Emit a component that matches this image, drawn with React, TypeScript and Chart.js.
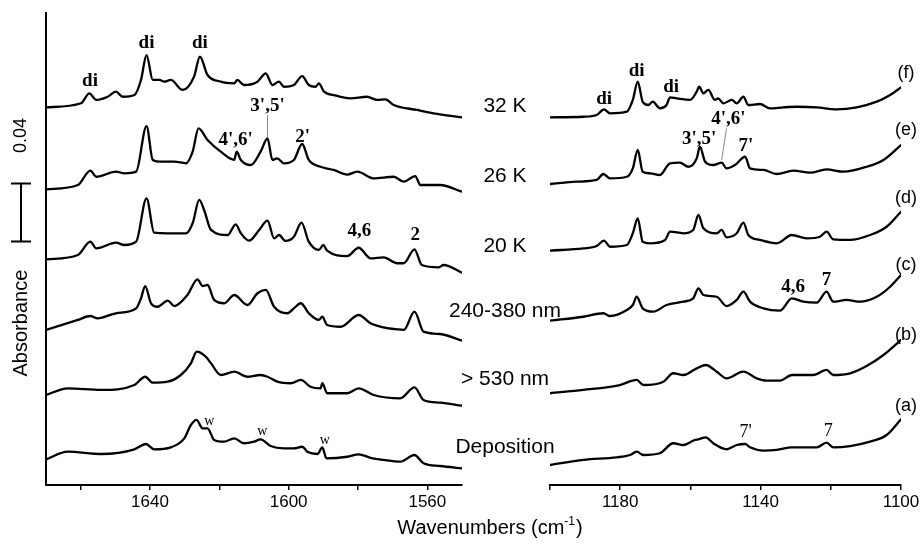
import React, { useEffect, useRef } from 'react';
import { Chart, registerables } from 'chart.js';

Chart.register(...registerables);

// ---------- data (y values: absorbance x 10^-3, traces offset-stacked) ----------
const Y_MAX = 325.7;
const SCALE_BAR_BASE = 168;
const SCALE_BAR = 40; // = 0.04 absorbance

const LEFT_TICKS = [1560, 1580, 1600, 1620, 1640, 1660];
const LEFT_MAJOR = [1560, 1600, 1640];
const RIGHT_TICKS = [1100, 1120, 1140, 1160, 1180, 1200];
const RIGHT_MAJOR = [1100, 1140, 1180];

// Left panel (1670-1550 cm-1)
const L_F_WN = [1670, 1659.9, 1657.5, 1655.5, 1652.2, 1649.8, 1647.9, 1644.5, 1642.6, 1641.0, 1639.2, 1637.3, 1635.9, 1634.0, 1630.6, 1627.3, 1625.6, 1623.4, 1619.6, 1615.7, 1614.8, 1612.9, 1609.0, 1606.6, 1604.7, 1602.8, 1601.4, 1598.5, 1596.1, 1594.2, 1592.2, 1591.3, 1589.8, 1587.0, 1582.2, 1577.4, 1574.5, 1572.1, 1569.7, 1563.0, 1558.2, 1550];
const L_F = [260.6, 263.4, 270.3, 265.7, 267.9, 271.4, 267.9, 269.1, 279.5, 296.7, 279.5, 279.5, 278.3, 279.5, 272.6, 281.7, 295.5, 282.9, 278.3, 277.2, 279.5, 276.0, 278.3, 284.1, 276.0, 278.3, 274.8, 276.0, 282.2, 276.0, 274.8, 277.2, 271.4, 269.1, 266.8, 267.9, 265.7, 266.1, 262.2, 258.8, 256.5, 253.7];

const L_E_WN = [1670, 1660.8, 1657.2, 1655.5, 1649.8, 1647.4, 1644.0, 1641.0, 1639.2, 1636.8, 1633.0, 1629.6, 1627.7, 1626.0, 1623.4, 1619.6, 1615.7, 1615.0, 1613.8, 1610.9, 1608.1, 1606.1, 1604.7, 1603.3, 1601.4, 1598.5, 1596.1, 1594.2, 1590.8, 1587.0, 1583.1, 1580.2, 1575.5, 1569.7, 1566.8, 1563.5, 1562.0, 1556.3, 1550];
const L_E = [204.0, 207.0, 216.9, 212.7, 216.2, 215.1, 216.2, 247.7, 224.3, 223.1, 223.1, 222.0, 230.0, 246.1, 238.1, 230.0, 224.3, 230.0, 224.3, 220.8, 230.0, 239.2, 224.3, 225.4, 222.0, 224.3, 235.3, 224.3, 219.6, 217.4, 214.2, 216.2, 211.6, 212.7, 209.3, 213.2, 207.0, 207.0, 202.4];

const L_D_WN = [1670, 1660.8, 1657.2, 1655.5, 1649.8, 1647.4, 1644.0, 1641.0, 1638.8, 1634.9, 1629.6, 1627.7, 1625.8, 1624.4, 1622.4, 1617.6, 1615.3, 1613.8, 1611.4, 1608.5, 1606.1, 1604.2, 1602.8, 1600.9, 1598.5, 1596.3, 1594.2, 1591.3, 1590.0, 1588.9, 1583.1, 1579.8, 1576.4, 1572.6, 1568.7, 1566.8, 1563.7, 1561.6, 1556.7, 1555.3, 1550];
const L_D = [155.7, 158.7, 167.9, 163.3, 167.2, 165.6, 167.9, 197.8, 174.1, 173.7, 173.7, 180.6, 196.7, 189.8, 176.0, 172.5, 179.9, 173.7, 168.6, 176.0, 182.4, 170.2, 172.5, 168.4, 171.3, 181.0, 167.9, 162.2, 165.6, 161.7, 158.0, 163.7, 156.4, 157.1, 153.0, 153.0, 162.6, 151.8, 150.2, 151.8, 146.5];

const L_C_WN = [1670, 1660.8, 1657.2, 1655.1, 1649.8, 1644.0, 1642.6, 1641.4, 1639.7, 1637.8, 1634.9, 1633.0, 1629.2, 1626.3, 1624.8, 1623.4, 1621.5, 1618.6, 1615.7, 1611.9, 1609.0, 1606.6, 1604.2, 1600.4, 1598.5, 1596.5, 1594.2, 1591.3, 1590.3, 1588.9, 1585.0, 1579.8, 1576.4, 1572.6, 1568.7, 1566.8, 1563.7, 1561.1, 1556.3, 1550];
const L_C = [107.0, 113.9, 116.6, 115.0, 118.5, 121.9, 128.8, 137.3, 125.4, 123.0, 127.2, 123.5, 131.1, 141.9, 137.3, 138.0, 127.7, 125.4, 131.1, 124.2, 132.3, 134.6, 123.0, 118.5, 121.9, 125.4, 118.5, 113.9, 116.1, 110.4, 109.2, 117.3, 111.6, 108.8, 107.4, 107.0, 119.6, 105.8, 104.2, 99.6];

const L_B_WN = [1670, 1663.7, 1654.1, 1644.5, 1641.4, 1639.2, 1634.9, 1631.1, 1628.2, 1626.5, 1623.9, 1622.4, 1619.6, 1615.7, 1611.9, 1608.1, 1606.1, 1603.3, 1599.4, 1596.5, 1593.7, 1590.8, 1590.3, 1588.9, 1583.1, 1579.8, 1575.5, 1567.8, 1563.7, 1561.1, 1556.3, 1550];
const L_B = [62.1, 66.7, 65.6, 69.0, 74.7, 70.6, 71.3, 75.9, 84.0, 92.0, 88.5, 84.0, 75.9, 78.2, 74.7, 75.9, 74.7, 71.3, 70.2, 72.5, 67.8, 66.7, 70.2, 63.3, 63.3, 66.7, 62.1, 59.8, 67.4, 58.7, 56.8, 54.7];

const L_A_WN = [1670, 1663.7, 1654.1, 1644.5, 1641.2, 1638.8, 1634.0, 1630.1, 1628.2, 1626.6, 1624.8, 1623.4, 1621.5, 1618.6, 1615.7, 1612.9, 1610.0, 1608.1, 1605.2, 1601.4, 1598.5, 1596.1, 1594.6, 1591.7, 1590.3, 1589.1, 1583.1, 1579.8, 1576.4, 1572.6, 1567.8, 1563.7, 1561.1, 1556.3, 1550];
const L_A = [17.7, 23.0, 21.4, 24.6, 28.3, 24.6, 26.0, 32.2, 41.4, 44.9, 39.1, 39.1, 31.1, 29.9, 32.2, 28.8, 29.9, 31.5, 26.9, 25.3, 25.3, 26.4, 23.0, 21.4, 26.0, 18.4, 19.5, 21.2, 18.8, 17.3, 16.1, 20.7, 15.0, 13.1, 11.5];

// Right panel (1200-1100 cm-1)
const R_F_WN = [1200, 1190.5, 1186.7, 1184.6, 1182.9, 1178.1, 1176.4, 1175.0, 1173.6, 1172.0, 1170.7, 1168.7, 1166.8, 1165.8, 1163.9, 1160.1, 1158.2, 1157.5, 1156.3, 1154.9, 1153.0, 1152.1, 1150.6, 1148.2, 1146.8, 1144.9, 1143.5, 1140.2, 1137.3, 1133.5, 1129.7, 1124.0, 1118.3, 1112.6, 1106.9, 1103.1, 1100];
const R_F = [253.7, 254.1, 255.3, 259.2, 256.5, 257.6, 265.7, 278.3, 264.5, 262.2, 264.5, 259.9, 262.2, 267.5, 266.8, 265.7, 271.4, 274.8, 270.3, 272.6, 265.7, 266.8, 263.4, 265.7, 263.4, 267.9, 262.2, 262.9, 259.9, 260.6, 261.0, 260.6, 259.2, 260.6, 264.5, 269.1, 274.4];

const R_E_WN = [1200, 1192.4, 1186.7, 1184.8, 1182.9, 1178.1, 1176.4, 1175.0, 1173.6, 1171.5, 1168.7, 1165.8, 1163.0, 1160.6, 1158.2, 1157.3, 1155.8, 1153.5, 1151.1, 1149.7, 1147.3, 1144.4, 1143.0, 1139.2, 1135.4, 1130.7, 1125.9, 1121.2, 1116.4, 1109.8, 1105.0, 1100];
const R_E = [207.7, 209.3, 210.5, 214.6, 211.6, 212.7, 218.5, 231.2, 216.2, 215.1, 213.9, 222.0, 222.4, 219.6, 225.4, 233.4, 223.1, 220.8, 222.4, 218.5, 220.8, 226.5, 218.5, 217.4, 214.6, 216.9, 215.5, 217.8, 216.2, 219.6, 224.3, 234.6];

const R_D_WN = [1200, 1190.5, 1186.7, 1184.6, 1182.9, 1178.1, 1176.4, 1175.0, 1173.6, 1171.5, 1167.2, 1165.8, 1162.0, 1159.2, 1157.7, 1156.3, 1152.5, 1151.1, 1149.7, 1146.8, 1144.9, 1143.5, 1140.2, 1135.4, 1131.1, 1126.9, 1123.1, 1121.2, 1119.3, 1114.5, 1108.8, 1104.1, 1100];
const R_D = [161.7, 163.3, 164.9, 168.6, 164.4, 165.6, 173.7, 184.0, 167.9, 166.8, 169.1, 174.8, 173.7, 176.0, 186.3, 177.1, 173.7, 176.0, 170.9, 173.7, 181.0, 172.5, 169.1, 166.8, 172.5, 170.2, 171.3, 174.8, 169.5, 169.1, 172.5, 178.2, 188.6];

const R_C_WN = [1200, 1190.5, 1184.8, 1182.9, 1178.1, 1176.4, 1175.3, 1173.6, 1170.6, 1166.8, 1162.0, 1159.2, 1157.7, 1156.3, 1152.5, 1149.7, 1146.8, 1144.9, 1143.0, 1139.2, 1134.5, 1131.1, 1127.8, 1124.0, 1121.2, 1119.3, 1115.5, 1111.7, 1106.9, 1103.1, 1100];
const R_C = [113.4, 116.1, 118.5, 116.6, 120.8, 124.2, 129.9, 121.9, 119.6, 124.2, 126.5, 128.8, 135.7, 131.1, 129.9, 123.5, 127.7, 133.4, 126.5, 121.9, 120.3, 128.8, 126.5, 125.8, 133.4, 126.5, 127.7, 126.5, 129.9, 136.8, 144.9];

const R_B_WN = [1200, 1190.5, 1180.1, 1175.3, 1173.4, 1167.7, 1164.9, 1162.0, 1158.2, 1155.6, 1152.5, 1149.7, 1144.9, 1141.1, 1138.3, 1134.5, 1131.1, 1125.0, 1121.2, 1119.3, 1114.5, 1109.8, 1105.0, 1100];
const R_B = [63.3, 65.6, 69.0, 72.5, 69.0, 71.3, 77.1, 75.9, 80.5, 82.8, 78.2, 73.6, 78.2, 73.6, 72.0, 72.0, 75.9, 75.9, 79.4, 75.9, 77.1, 82.1, 89.7, 100.1];

const R_A_WN = [1200, 1190.5, 1181.0, 1177.2, 1175.3, 1173.4, 1168.7, 1164.9, 1162.0, 1158.7, 1157.7, 1155.6, 1153.5, 1149.7, 1146.8, 1144.4, 1143.0, 1139.2, 1135.4, 1131.1, 1124.0, 1121.2, 1119.3, 1114.5, 1108.8, 1104.1, 1100];
const R_A = [13.8, 17.3, 19.1, 20.7, 23.0, 20.7, 21.9, 28.8, 27.6, 31.1, 31.5, 32.9, 28.8, 24.6, 27.6, 28.3, 26.0, 23.7, 24.2, 26.0, 26.0, 29.2, 26.0, 26.9, 29.9, 34.5, 45.3];

// Annotations: [text, wavenumber, value]
const LEFT_BOLD_NOTES: [string, number, number][] = [
  ['di', 1657.3, 278.4], ['di', 1641.0, 304.6], ['di', 1625.6, 304.6],
  ["3',5'", 1606.1, 261.2], ["4',6'", 1615.3, 238.1], ["2'", 1596.0, 239.8],
  ['4,6', 1579.6, 174.9], ['2', 1563.5, 172.5],
];
const LEFT_W_NOTES: [string, number, number][] = [
  ['w', 1622.9, 41.4], ['w', 1607.6, 34.5], ['w', 1589.6, 28.3],
];
const LEFT_LEADER = [1606.1, 255.3, 1606.1, 240.1];

const RIGHT_BOLD_NOTES: [string, number, number][] = [
  ['di', 1184.6, 266.3], ['di', 1175.3, 285.7], ['di', 1165.5, 274.3],
  ["3',5'", 1157.5, 238.7], ["4',6'", 1149.2, 252.5], ["7'", 1144.2, 233.6],
  ['4,6', 1130.7, 136.6], ['7', 1121.2, 141.5],
];
const RIGHT_PLAIN_NOTES: [string, number, number][] = [
  ["7'", 1144.3, 36.6], ['7', 1120.7, 37.3],
];
const RIGHT_LEADER = [1149.7, 246.1, 1151.1, 224.3];

const CONDITIONS = ['32 K', '26 K', '20 K', '240-380 nm', '> 530 nm', 'Deposition'];
const CONDITION_BASELINE = [257.6, 209.3, 161.0, 116.1, 69.0, 21.9];
const TAGS = ['(f)', '(e)', '(d)', '(c)', '(b)', '(a)'];
const TAG_Y = [284.2, 245.0, 197.8, 151.8, 103.5, 54.7];

const LEFT_SERIES: [number[], number[]][] = [[L_F_WN, L_F], [L_E_WN, L_E], [L_D_WN, L_D], [L_C_WN, L_C], [L_B_WN, L_B], [L_A_WN, L_A]];
const RIGHT_SERIES: [number[], number[]][] = [[R_F_WN, R_F], [R_E_WN, R_E], [R_D_WN, R_D], [R_C_WN, R_C], [R_B_WN, R_B], [R_A_WN, R_A]];

// ---------- rendering ----------
const W = 921;
const H = 544;
const SERIF = '"Liberation Serif", "Times New Roman", serif';
const SANS = '"Liberation Sans", Arial, sans-serif';

function toPoints(wn: number[], v: number[]) {
  return wn.map((x, i) => ({ x, y: v[i] }));
}

function datasets(series: [number[], number[]][]) {
  return series.map(([wn, v]) => ({
    data: toPoints(wn, v),
    borderColor: '#000',
    borderWidth: 2.3,
    pointRadius: 0,
    cubicInterpolationMode: 'monotone' as const,
    fill: false,
    borderJoinStyle: 'round' as const,
    borderCapStyle: 'round' as const,
  }));
}

function drawNotes(chart: any, notes: [string, number, number][], font: string, baseline: CanvasTextBaseline) {
  const { ctx, scales } = chart;
  ctx.save();
  ctx.fillStyle = '#000';
  ctx.font = font;
  ctx.textAlign = 'center';
  ctx.textBaseline = baseline;
  notes.forEach(([t, wn, v]) => {
    ctx.fillText(t, scales.x.getPixelForValue(wn), scales.y.getPixelForValue(v));
  });
  ctx.restore();
}

function drawLeader(chart: any, l: number[]) {
  const { ctx, scales } = chart;
  ctx.save();
  ctx.strokeStyle = '#8a8a8a';
  ctx.lineWidth = 1;
  ctx.beginPath();
  ctx.moveTo(scales.x.getPixelForValue(l[0]), scales.y.getPixelForValue(l[1]));
  ctx.lineTo(scales.x.getPixelForValue(l[2]), scales.y.getPixelForValue(l[3]));
  ctx.stroke();
  ctx.restore();
}

const leftDecor = {
  id: 'leftDecor',
  afterDraw(chart: any) {
    const { ctx, chartArea, scales } = chart;
    drawLeader(chart, LEFT_LEADER);
    drawNotes(chart, LEFT_BOLD_NOTES, `bold 19px ${SERIF}`, 'middle');
    drawNotes(chart, LEFT_W_NOTES, `14px ${SERIF}`, 'alphabetic');
    // scale bar
    const bx = chartArea.left - 25;
    const y1 = scales.y.getPixelForValue(SCALE_BAR_BASE);
    const y2 = scales.y.getPixelForValue(SCALE_BAR_BASE + SCALE_BAR);
    ctx.save();
    ctx.strokeStyle = '#000';
    ctx.lineWidth = 2;
    ctx.beginPath();
    ctx.moveTo(bx, y1); ctx.lineTo(bx, y2);
    ctx.moveTo(bx - 10, y1); ctx.lineTo(bx + 10, y1);
    ctx.moveTo(bx - 10, y2); ctx.lineTo(bx + 10, y2);
    ctx.stroke();
    ctx.fillStyle = '#000';
    ctx.textAlign = 'center';
    ctx.textBaseline = 'middle';
    ctx.translate(bx, y2 - 48);
    ctx.rotate(-Math.PI / 2);
    ctx.font = `18px ${SANS}`;
    ctx.fillText('0.04', 0, 0);
    ctx.restore();
    // y title
    ctx.save();
    ctx.fillStyle = '#000';
    ctx.textAlign = 'center';
    ctx.textBaseline = 'middle';
    ctx.translate(chartArea.left - 25, chartArea.top + 0.657 * (chartArea.bottom - chartArea.top));
    ctx.rotate(-Math.PI / 2);
    ctx.font = `20px ${SANS}`;
    ctx.fillText('Absorbance', 0, 0);
    ctx.restore();
  },
};

const rightDecor = {
  id: 'rightDecor',
  afterDraw(chart: any) {
    const { ctx, chartArea, scales } = chart;
    drawLeader(chart, RIGHT_LEADER);
    drawNotes(chart, RIGHT_BOLD_NOTES, `bold 19px ${SERIF}`, 'middle');
    drawNotes(chart, RIGHT_PLAIN_NOTES, `18px ${SERIF}`, 'middle');
    ctx.save();
    ctx.fillStyle = '#000';
    ctx.textAlign = 'center';
    ctx.font = `21px ${SANS}`;
    ctx.textBaseline = 'alphabetic';
    CONDITIONS.forEach((t, i) => {
      ctx.fillText(t, chartArea.left - 45, scales.y.getPixelForValue(CONDITION_BASELINE[i]));
    });
    ctx.font = `18px ${SANS}`;
    ctx.textBaseline = 'middle';
    TAGS.forEach((t, i) => {
      ctx.fillText(t, chartArea.right + 5, scales.y.getPixelForValue(TAG_Y[i]));
    });
    // x title with superscript
    const cx = chartArea.left - 60;
    const by = chartArea.bottom + 49;
    const a = 'Wavenumbers (cm';
    const sup = '-1';
    const b = ')';
    ctx.textAlign = 'left';
    ctx.textBaseline = 'alphabetic';
    ctx.font = `20px ${SANS}`;
    const wa = ctx.measureText(a).width;
    const wb = ctx.measureText(b).width;
    ctx.font = `12px ${SANS}`;
    const ws = ctx.measureText(sup).width;
    let x = cx - (wa + ws + wb + 1) / 2;
    ctx.font = `20px ${SANS}`;
    ctx.fillText(a, x, by);
    x += wa;
    ctx.font = `12px ${SANS}`;
    ctx.fillText(sup, x, by - 9);
    x += ws + 1;
    ctx.font = `20px ${SANS}`;
    ctx.fillText(b, x, by);
    ctx.restore();
  },
};

function xScale(min: number, max: number, ticks: number[], major: number[]) {
  return {
    type: 'linear' as const,
    reverse: true,
    min,
    max,
    afterBuildTicks: (s: any) => { s.ticks = ticks.map((value) => ({ value })); },
    afterFit: (s: any) => { s.height = H - 485; },
    ticks: {
      autoSkip: false,
      maxRotation: 0,
      padding: 2,
      color: '#000',
      font: { family: SANS, size: 17 },
      callback: (v: any) => (major.includes(Number(v)) ? String(v) : ''),
    },
    grid: { display: true, drawOnChartArea: false, drawTicks: true, tickLength: 5, color: '#000', lineWidth: 1.5 },
    border: { display: true, color: '#000', width: 2 },
  };
}

export default function App() {
  const leftRef = useRef<HTMLCanvasElement | null>(null);
  const rightRef = useRef<HTMLCanvasElement | null>(null);

  useEffect(() => {
    const common = {
      animation: false as const,
      responsive: false,
      maintainAspectRatio: false,
      events: [] as any[],
      plugins: { legend: { display: false }, tooltip: { enabled: false } },
    };
    const left = new Chart(leftRef.current as HTMLCanvasElement, {
      type: 'line',
      data: { datasets: datasets(LEFT_SERIES) as any },
      options: {
        ...common,
        layout: { padding: { top: 13, right: W - 462, left: 0, bottom: 0 } },
        scales: {
          x: xScale(1550, 1670, LEFT_TICKS, LEFT_MAJOR) as any,
          y: {
            min: 0,
            max: Y_MAX,
            afterFit: (s: any) => { s.width = 46; },
            ticks: { display: false },
            grid: { display: false },
            border: { display: true, color: '#000', width: 2 },
          },
        },
      } as any,
      plugins: [leftDecor],
    });
    const right = new Chart(rightRef.current as HTMLCanvasElement, {
      type: 'line',
      data: { datasets: datasets(RIGHT_SERIES) as any },
      options: {
        ...common,
        layout: { padding: { top: 13, right: 20, left: 550, bottom: 0 } },
        scales: {
          x: xScale(1100, 1200, RIGHT_TICKS, RIGHT_MAJOR) as any,
          y: { display: false, min: 0, max: Y_MAX },
        },
      } as any,
      plugins: [rightDecor],
    });
    return () => {
      left.destroy();
      right.destroy();
    };
  }, []);

  const cs: React.CSSProperties = { position: 'absolute', left: 0, top: 0, width: W, height: H };
  return (
    <div style={{ position: 'fixed', left: 0, top: 0, width: W, height: H, background: '#fff' }}>
      <canvas ref={leftRef} width={W} height={H} style={cs} />
      <canvas ref={rightRef} width={W} height={H} style={cs} />
    </div>
  );
}
